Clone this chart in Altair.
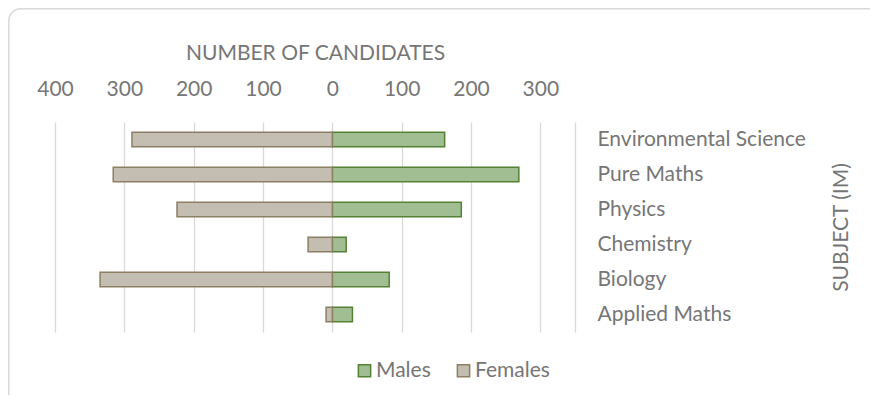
import altair as alt
import pandas as pd

subjects = ["Environmental Science", "Pure Maths", "Physics", "Chemistry", "Biology", "Applied Maths"]
males = [162, 269, 186, 20, 82, 29]
females = [289, 316, 224, 35, 335, 9]
x_ticks = [-400, -300, -200, -100, 0, 100, 200, 300]

rows = []
for s, m, f in zip(subjects, males, females):
    rows.append({"Subject": s, "Gender": "Males", "Count": m})
    rows.append({"Subject": s, "Gender": "Females", "Count": -f})
df = pd.DataFrame(rows)

FONT = "Lato"
FS = 21
TXT = "#767676"
GRID = "#d9d9d9"

bars = alt.Chart(df).mark_bar(strokeWidth=1.5).encode(
    x=alt.X("Count:Q", stack=None,
            scale=alt.Scale(domain=[-400, 350], nice=False, zero=False),
            axis=alt.Axis(orient="top", values=x_ticks, labelExpr="abs(datum.value)",
                          title="NUMBER OF CANDIDATES", titleFont=FONT, titleFontSize=FS,
                          titleFontWeight="normal", titleColor=TXT, titleX=260, titleY=-69,
                          titleAlign="center", titleBaseline="middle",
                          labelFont=FONT, labelFontSize=FS, labelColor=TXT,
                          labelBaseline="middle", labelPadding=33, labelFlush=False,
                          labelOverlap=False,
                          grid=True, gridColor=GRID, gridWidth=1.3,
                          domain=False, ticks=False)),
    y=alt.Y("Subject:N", sort=subjects,
            scale=alt.Scale(paddingInner=0.58, paddingOuter=0.29),
            axis=alt.Axis(orient="right", title="SUBJECT (IM)", titleFont=FONT,
                          titleFontSize=FS, titleFontWeight="normal", titleColor=TXT,
                          titleAngle=270, titleX=266, titleY=105, titleAlign="center",
                          titleBaseline="middle",
                          labelFont=FONT, labelFontSize=FS, labelColor=TXT, labelLimit=400,
                          labelAlign="left", labelPadding=22, ticks=False,
                          domain=True, domainColor=GRID, domainWidth=1.3, grid=False)),
    color=alt.Color("Gender:N",
                    scale=alt.Scale(domain=["Males", "Females"], range=["#a0be92", "#c4bdb1"]),
                    legend=alt.Legend(title=None, orient="none", direction="horizontal",
                                      legendX=299, legendY=238, symbolType="square",
                                      symbolSize=150, symbolStrokeWidth=1.5,
                                      labelFont=FONT, labelFontSize=FS, labelColor=TXT,
                                      labelOffset=1, columnPadding=22)),
    stroke=alt.Stroke("Gender:N",
                      scale=alt.Scale(domain=["Males", "Females"], range=["#548235", "#8c7f64"]),
                      legend=None),
)

frame = alt.Chart(pd.DataFrame({"a": [0]})).mark_rect(
    fill=None, stroke=GRID, strokeWidth=1.5, cornerRadius=12, clip=False
).encode(
    x=alt.value(-46.2), x2=alt.value(830), y=alt.value(-113.2), y2=alt.value(290)
)

chart = alt.layer(frame, bars).properties(
    width=520, height=210,
    autosize=alt.AutoSizeParams(type="none"),
    padding={"left": 47, "top": 114, "right": 295, "bottom": 63},
).configure_view(stroke=None)

chart.save("out.html", embed_options={"renderer": "svg", "actions": False})
